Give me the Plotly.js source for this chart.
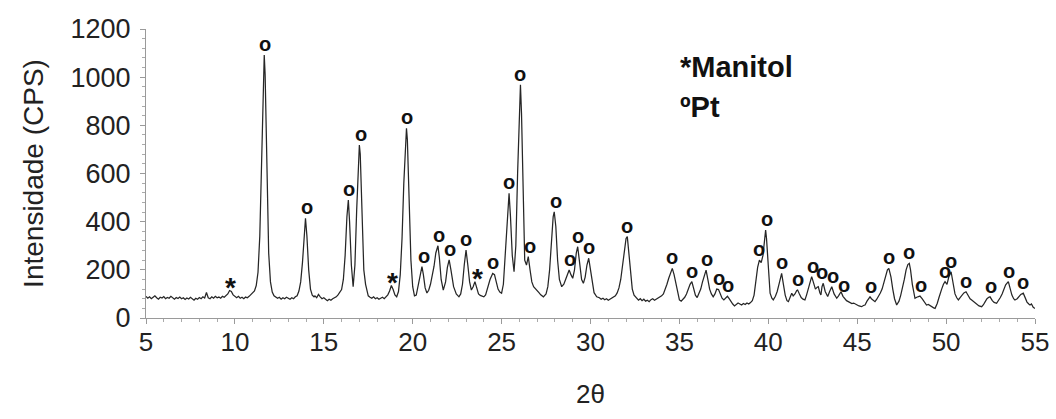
<!DOCTYPE html>
<html>
<head>
<meta charset="utf-8">
<script src="https://cdn.plot.ly/plotly-3.0.1.min.js"></script>
<style>html,body{margin:0;padding:0;background:#fff;}#chart{width:1056px;height:419px;}</style>
</head>
<body>
<div id="chart"></div>
<script>
// 2θ positions (degrees), one line per stretch of the diffractogram
const twoTheta = [
  5.0,5.1,5.2,5.3,5.4,5.5,5.6,5.7,5.8,5.9,6.0,6.1,6.2,6.3,6.4,6.5,6.6,6.7,6.8,6.9,7.0,7.1,7.2,7.3,7.4,7.5,7.6,7.7,7.8,7.9,8.0,8.1,8.2,8.3,8.4,8.5,8.6,8.7,8.8,8.9,9.0,9.1,9.2,9.3,9.4,9.5,9.6,9.7,9.8,9.9,10.0,10.1,10.2,10.3,10.4,10.5,10.6,10.7,10.8,10.9,11.0,
  11.1,11.2,11.3,11.4,11.5,11.6,11.65,11.7,11.8,11.9,12.0,12.1,12.2,12.3,
  12.4,12.5,12.6,12.7,12.8,12.9,13.0,13.1,13.2,13.3,13.4,13.5,
  13.6,13.7,13.8,13.9,13.97,14.05,14.15,14.25,14.35,14.45,
  14.5,14.6,14.7,14.8,14.9,15.0,15.1,15.2,15.3,15.4,15.5,15.6,15.7,15.8,15.9,
  16.0,16.1,16.2,16.3,16.38,16.45,16.55,16.65,16.75,16.85,16.95,17.0,17.05,17.15,17.25,17.35,17.45,
  17.5,17.6,17.7,17.8,17.9,18.0,18.1,18.2,18.3,18.4,18.5,18.6,18.7,18.8,18.9,19.0,19.1,
  19.2,19.3,19.4,19.5,19.6,19.65,19.7,19.8,19.9,20.0,20.1,
  20.2,20.3,20.4,20.52,20.6,20.7,20.8,20.9,21.0,21.1,21.2,21.3,21.42,21.5,21.6,
  21.72,21.85,21.95,22.05,22.15,22.3,22.45,22.6,22.7,22.8,22.9,23.0,23.1,23.2,23.3,
  23.4,23.5,23.6,23.7,23.8,23.9,24.0,24.1,24.2,24.35,24.5,24.6,24.7,24.8,24.9,25.0,
  25.1,25.2,25.3,25.42,25.5,25.6,25.7,25.8,25.9,26.0,26.06,26.12,26.2,26.3,
  26.4,26.5,26.6,26.7,26.8,26.9,27.0,27.1,27.2,27.35,27.5,
  27.6,27.7,27.8,27.9,27.96,28.05,28.15,28.25,28.38,28.5,28.6,28.7,28.8,28.9,29.0,29.1,29.2,29.28,29.4,29.5,29.6,
  29.7,29.8,29.9,30.0,30.1,30.2,30.35,30.5,30.6,30.7,30.8,30.9,31.0,31.1,31.2,31.3,31.4,31.5,
  31.6,31.7,31.8,31.9,32.0,32.07,32.15,32.25,32.35,32.45,32.6,32.7,32.8,32.9,33.0,33.1,33.2,33.3,33.4,33.5,33.6,33.7,33.8,33.9,34.0,
  34.1,34.2,34.3,34.4,34.5,34.6,34.7,34.8,34.9,35.0,35.1,35.2,35.3,35.4,35.5,35.6,35.7,35.8,35.9,36.0,36.1,36.2,36.3,36.4,36.5,36.6,36.7,36.8,36.9,37.0,
  37.1,37.2,37.3,37.4,37.5,37.6,37.7,37.8,37.9,38.0,38.1,38.2,38.3,38.4,38.5,38.6,38.7,38.8,38.9,39.0,39.1,
  39.2,39.3,39.4,39.5,39.6,39.7,39.8,39.85,39.9,40.0,40.1,40.2,40.28,
  40.4,40.5,40.6,40.7,40.75,40.85,40.95,41.05,41.13,41.25,41.32,41.4,41.5,41.6,41.65,41.75,41.85,41.95,42.06,
  42.15,42.25,42.35,42.44,42.55,42.65,42.75,42.81,42.9,42.96,43.02,43.09,43.2,43.34,43.45,43.57,43.7,43.85,43.95,44.09,
  44.2,44.3,44.4,44.5,44.6,44.7,44.8,44.9,45.0,45.1,45.25,45.35,45.44,45.55,45.65,45.72,45.8,45.9,46.0,
  46.1,46.2,46.3,46.4,46.5,46.6,46.7,46.78,46.9,47.0,47.1,47.22,47.35,47.45,47.55,47.65,47.75,47.85,47.93,48.0,48.1,48.2,48.25,
  48.35,48.45,48.53,48.65,48.75,48.9,49.0,49.1,49.2,49.3,49.38,49.5,49.6,49.66,49.75,49.85,49.94,50.05,50.15,50.28,50.38,50.5,50.6,50.69,
  50.8,50.9,51.0,51.12,51.25,51.35,51.44,51.55,51.65,51.75,51.85,52.0,52.1,52.2,52.3,52.4,52.47,52.6,52.7,52.84,52.95,53.05,53.15,53.25,53.35,53.5,53.6,53.7,53.8,53.87,54.0,54.1,54.2,54.34,54.45,54.55,54.65,54.72,54.8,54.9,55.0
];
// Intensity (CPS), same lines as above
const intensity = [
  90,82,88,80,86,92,84,78,86,83,89,80,85,82,90,84,78,85,81,87,80,84,77,83,79,86,80,74,82,78,85,80,88,83,106,84,80,88,82,90,84,87,82,90,86,93,100,114,110,96,88,84,90,82,86,80,87,84,90,96,106,
  112,135,190,340,660,1000,1092,1010,600,270,150,108,92,86,
  82,86,78,84,80,86,82,78,84,80,88,92,
  112,150,230,360,414,340,200,120,95,88,
  92,84,98,88,80,84,76,72,78,74,80,84,88,96,108,
  118,160,260,420,490,400,220,130,220,450,690,718,680,420,200,140,105,
  92,86,82,88,80,84,78,82,86,80,88,96,112,135,118,96,88,
  110,180,330,560,760,788,740,480,240,130,92,
  95,130,180,213,180,125,104,115,140,175,215,270,300,250,160,
  116,150,210,241,200,130,100,88,100,140,220,282,220,150,116,
  130,151,120,100,94,90,88,96,120,160,185,180,150,120,108,103,
  140,250,400,518,420,260,192,300,600,900,968,850,500,240,
  220,255,200,150,130,120,112,105,96,88,100,
  130,200,320,420,441,380,240,160,130,140,160,180,199,180,165,200,270,296,220,160,144,
  170,220,248,200,140,105,88,84,78,82,76,80,74,78,82,86,92,104,
  125,160,210,280,330,338,280,180,120,95,80,74,80,72,78,70,74,68,76,80,74,78,84,88,92,
  100,118,140,165,190,206,180,140,100,75,70,78,86,100,120,140,151,120,95,85,100,120,150,180,199,160,120,100,88,100,
  120,118,100,82,75,84,90,80,68,58,50,55,62,58,54,60,56,62,58,64,72,
  95,150,210,240,230,260,340,365,330,200,103,82,75,
  90,110,140,175,185,140,95,72,68,90,103,92,100,114,116,100,85,78,75,
  95,125,155,172,145,120,128,130,105,96,130,144,110,89,110,130,100,82,92,109,
  90,80,72,68,64,60,62,56,54,50,47,52,54,70,84,88,80,72,68,
  78,90,104,120,150,180,200,206,170,120,80,54,70,95,125,160,200,222,227,200,140,95,82,
  86,90,91,80,70,54,56,50,46,42,40,60,85,103,120,140,151,140,170,192,150,100,84,75,
  86,95,104,109,90,80,75,68,60,54,50,47,55,68,80,86,88,72,65,61,72,85,100,118,138,151,120,95,80,75,80,90,98,103,80,66,58,54,58,44,40
];
// Peak identification labels: * = Manitol, o = Pt
const labelX = [9.78,11.69,14.06,16.42,17.09,18.84,19.68,20.64,21.48,22.10,23.0,23.62,24.52,25.42,26.04,26.6,28.06,28.85,29.3,29.92,32.05,34.59,35.71,36.55,37.23,37.73,39.48,39.93,40.77,41.67,42.51,43.01,43.63,44.25,45.78,46.79,47.91,48.59,49.96,50.3,51.12,52.53,53.54,54.33];
const labelSym = ['*','o','o','o','o','*','o','o','o','o','o','*','o','o','o','o','o','o','o','o','o','o','o','o','o','o','o','o','o','o','o','o','o','o','o','o','o','o','o','o','o','o','o','o'];
const legendLines = ['*Manitol','ºPt'];
const xTitle = '2θ';
const yTitle = 'Intensidade (CPS)';

if (twoTheta.length !== intensity.length) console.error('length mismatch', twoTheta.length, intensity.length);

function localMax(x0, half) {
  let m = 0;
  for (let i = 0; i < twoTheta.length; i++) {
    if (twoTheta[i] >= x0 - half - 1e-9 && twoTheta[i] <= x0 + half + 1e-9) m = Math.max(m, intensity[i]);
  }
  return m;
}

const FONT = 'Arial, "Liberation Sans", sans-serif';
const annotations = labelX.map((x, i) => {
  const star = labelSym[i] === '*';
  return {
    x: x, y: localMax(x, 0.15), xref: 'x', yref: 'y',
    text: star ? '<b>*</b>' : '<b>o</b>', showarrow: false,
    xanchor: 'center', yanchor: 'middle', yshift: star ? 3 : 11,
    font: {family: FONT, size: star ? 28 : 20, color: '#111'}
  };
});
annotations.push({x: 0.598, y: 0.868, xref: 'paper', yref: 'paper', xanchor: 'left', yanchor: 'middle', showarrow: false,
  text: '<b>' + legendLines[0] + '</b>', font: {family: FONT, size: 29, color: '#111'}});
annotations.push({x: 0.598, y: 0.73, xref: 'paper', yref: 'paper', xanchor: 'left', yanchor: 'middle', showarrow: false,
  text: '<b>' + legendLines[1] + '</b>', font: {family: FONT, size: 29, color: '#111'}});

const trace = {
  x: twoTheta, y: intensity, type: 'scatter', mode: 'lines',
  line: {color: '#262626', width: 1.25}, hoverinfo: 'skip', showlegend: false
};

const layout = {
  width: 1056, height: 419,
  margin: {l: 146, r: 21, t: 29, b: 101},
  paper_bgcolor: '#fff', plot_bgcolor: '#fff',
  font: {family: FONT, color: '#222'},
  showlegend: false,
  xaxis: {
    range: [5, 55], tick0: 5, dtick: 5, showgrid: false, zeroline: false,
    showline: true, linecolor: '#9a9a9a', linewidth: 1,
    ticks: 'outside', ticklen: 5, tickcolor: '#9a9a9a', tickwidth: 1,
    minor: {dtick: 1, ticks: 'outside', ticklen: 3, tickcolor: '#aaaaaa', showgrid: false},
    tickfont: {family: FONT, size: 26, color: '#222'},
    ticklabelstandoff: -4,
    title: {text: xTitle, font: {family: FONT, size: 26, color: '#222'}, standoff: 28}
  },
  yaxis: {
    range: [0, 1200], tick0: 0, dtick: 200, showgrid: false, zeroline: false,
    showline: true, linecolor: '#9a9a9a', linewidth: 1,
    ticks: 'outside', ticklen: 5, tickcolor: '#9a9a9a', tickwidth: 1,
    minor: {dtick: 40, ticks: 'outside', ticklen: 3, tickcolor: '#aaaaaa', showgrid: false},
    tickfont: {family: FONT, size: 27, color: '#222'},
    ticklabelstandoff: 4,
    title: {text: yTitle, font: {family: FONT, size: 28, color: '#222'}, standoff: 18}
  },
  annotations: annotations
};

Plotly.newPlot('chart', [trace], layout, {displayModeBar: false, staticPlot: true});
</script>
</body>
</html>
